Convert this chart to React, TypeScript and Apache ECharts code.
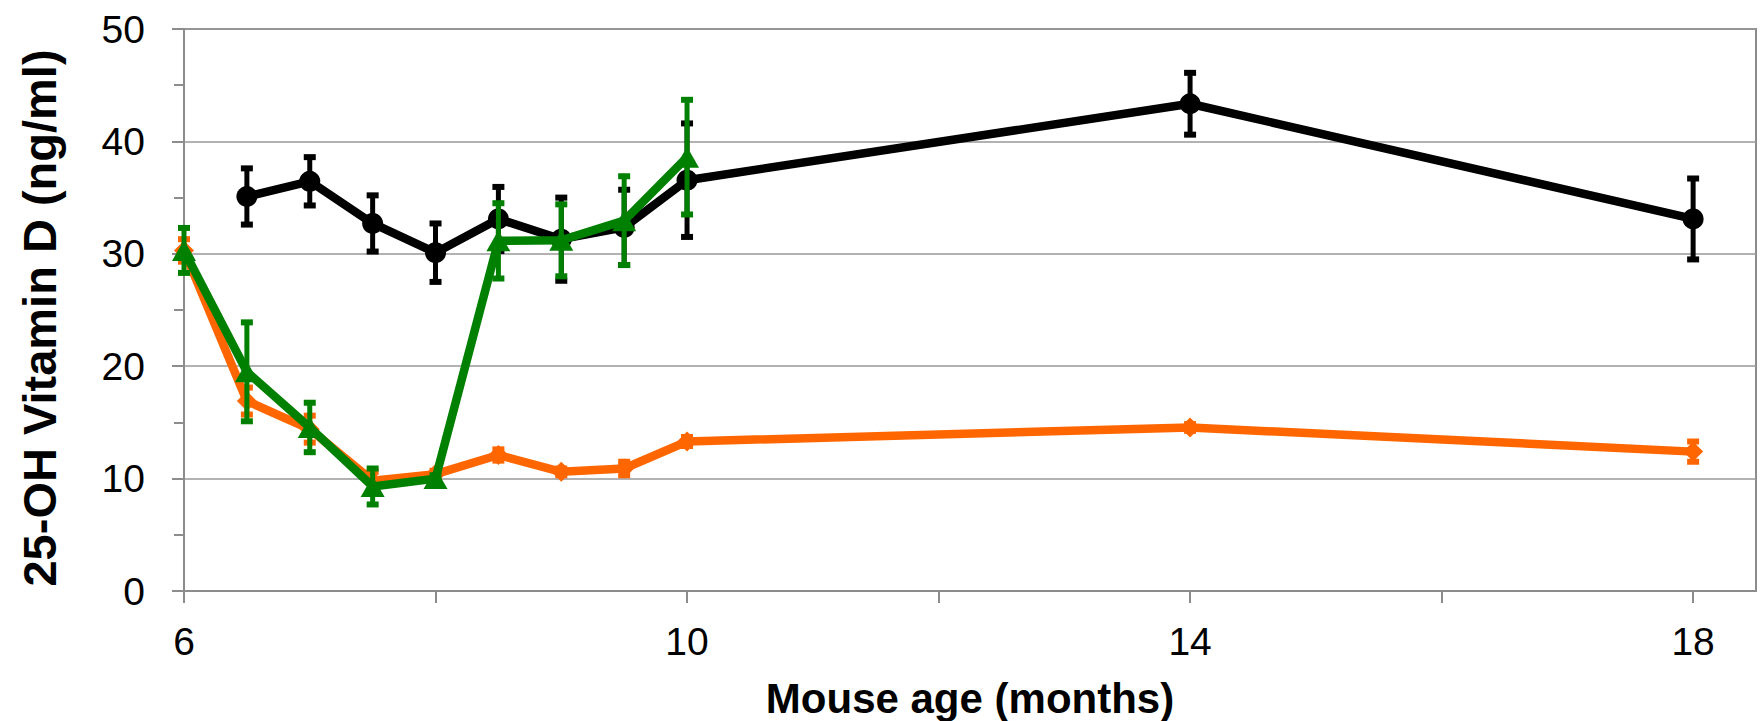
import React, { useEffect, useRef } from "react";
import * as echarts from "echarts";

// Mouse age (months)
const blackAges = [6.5, 7, 7.5, 8, 8.5, 9, 9.5, 10, 14, 18];
const blackValues = [35.1, 36.45, 32.7, 30.1, 33.1, 31.3, 32.35, 36.55, 43.35, 33.1];
const blackErrors = [2.5, 2.15, 2.5, 2.6, 2.85, 3.7, 3.35, 5.05, 2.75, 3.6];

const orangeAges = [6, 6.5, 7, 7.5, 8, 8.5, 9, 9.5, 10, 14, 18];
const orangeValues = [30.3, 16.9, 14.4, 9.8, 10.4, 12.1, 10.6, 10.9, 13.3, 14.55, 12.4];
const orangeErrors = [1.0, 1.2, 1.2, 0.8, 0.3, 0.5, 0.3, 0.6, 0.4, 0.3, 0.9];

const greenAges = [6, 6.5, 7, 7.5, 8, 8.5, 9, 9.5, 10];
const greenValues = [30.3, 19.5, 14.55, 9.3, 10.0, 31.15, 31.2, 32.95, 38.6];
const greenErrors = [2.0, 4.4, 2.2, 1.6, 0.3, 3.35, 3.2, 3.95, 5.1];

const xTickValues = [6, 8, 10, 12, 14, 16, 18];
const xLabelValues = [6, 10, 14, 18];

const xTitle = "Mouse age (months)";
const yTitle = "25-OH Vitamin D (ng/ml)";

const FONT = "'Liberation Sans', Arial, Helvetica, sans-serif";
const AXIS_GRAY = "#8c8c8c";

function lineSeries(name: string, color: string, xs: number[], ys: number[], symbol: string, size: any, z: number) {
  return {
    type: "line",
    name,
    z,
    data: xs.map((x, i) => [x, ys[i]]),
    symbol,
    symbolSize: size,
    showAllSymbol: true,
    lineStyle: { color, width: 8.5 },
    itemStyle: { color, borderWidth: 0 },
    emphasis: { disabled: true },
    silent: true,
  };
}

function errorSeries(name: string, color: string, xs: number[], ys: number[], errs: number[], z: number) {
  return {
    type: "custom",
    name,
    z,
    silent: true,
    clip: false,
    data: xs.map((x, i) => [x, ys[i] - errs[i], ys[i] + errs[i]]),
    encode: { x: 0, y: [1, 2] },
    renderItem: (params: any, api: any) => {
      const x = api.value(0);
      const lo = api.coord([x, api.value(1)]);
      const hi = api.coord([x, api.value(2)]);
      const capW = 12;
      const capH = 6;
      return {
        type: "group",
        children: [
          {
            type: "line",
            shape: { x1: lo[0], y1: lo[1], x2: hi[0], y2: hi[1] },
            style: { stroke: color, lineWidth: 5 },
          },
          {
            type: "rect",
            shape: { x: hi[0] - capW / 2, y: hi[1] - capH / 2, width: capW, height: capH },
            style: { fill: color },
          },
          {
            type: "rect",
            shape: { x: lo[0] - capW / 2, y: lo[1] - capH / 2, width: capW, height: capH },
            style: { fill: color },
          },
        ],
      };
    },
  };
}

export default function App() {
  const ref = useRef<HTMLDivElement>(null);

  useEffect(() => {
    if (!ref.current) return;
    const chart = echarts.init(ref.current, null, { renderer: "svg" });
    const tickStyle = { color: AXIS_GRAY, width: 2 };
    chart.setOption({
      animation: false,
      backgroundColor: "#ffffff",
      grid: {
        left: 184,
        right: 4,
        top: 29,
        bottom: 130,
        show: true,
        borderColor: AXIS_GRAY,
        borderWidth: 2,
        backgroundColor: "transparent",
      },
      xAxis: {
        type: "value",
        min: 6,
        max: 18.5,
        interval: 2,
        axisLine: { show: true, onZero: false, lineStyle: tickStyle },
        axisTick: { show: true, length: 12, lineStyle: tickStyle, customValues: xTickValues },
        axisLabel: {
          customValues: xLabelValues,
          fontSize: 39,
          fontFamily: FONT,
          color: "#000",
          margin: 31,
        },
        splitLine: { show: false },
      },
      yAxis: {
        type: "value",
        min: 0,
        max: 50,
        interval: 10,
        axisLine: { show: true, onZero: false, lineStyle: tickStyle },
        axisTick: { show: true, length: 12, lineStyle: tickStyle },
        minorTick: { show: true, splitNumber: 2, length: 10, lineStyle: tickStyle },
        axisLabel: { fontSize: 39, fontFamily: FONT, color: "#000", margin: 39 },
        splitLine: { show: true, lineStyle: { color: "#999999", width: 1.5 } },
      },
      graphic: [
        {
          type: "text",
          x: 39,
          y: 318,
          rotation: Math.PI / 2,
          style: {
            text: yTitle,
            font: `bold 47px ${FONT}`,
            fill: "#000",
            align: "center",
            verticalAlign: "middle",
          },
        },
        {
          type: "text",
          x: 970,
          y: 698,
          style: {
            text: xTitle,
            font: `bold 42px ${FONT}`,
            fill: "#000",
            align: "center",
            verticalAlign: "middle",
          },
        },
      ],
      series: [
        lineSeries("Black", "#000000", blackAges, blackValues, "circle", 21, 2),
        errorSeries("Black error", "#000000", blackAges, blackValues, blackErrors, 3),
        lineSeries("Orange", "#FF6600", orangeAges, orangeValues, "diamond", [20, 20], 4),
        errorSeries("Orange error", "#FF6600", orangeAges, orangeValues, orangeErrors, 5),
        lineSeries("Green", "#008000", greenAges, greenValues, "triangle", [24, 21], 6),
        errorSeries("Green error", "#008000", greenAges, greenValues, greenErrors, 7),
      ],
    });
    return () => chart.dispose();
  }, []);

  return (
    <div
      ref={ref}
      style={{ position: "fixed", left: 0, top: 0, width: 1760, height: 721, background: "#fff" }}
    />
  );
}
